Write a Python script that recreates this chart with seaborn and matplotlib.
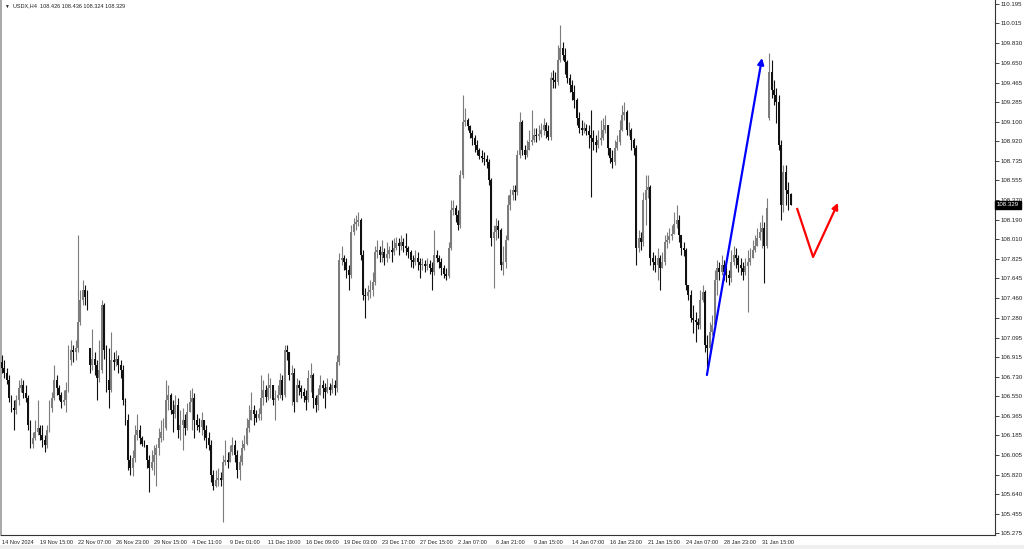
import numpy as np
import pandas as pd
import matplotlib
matplotlib.use('Agg')
import matplotlib.pyplot as plt
import seaborn as sns
from matplotlib.patches import Rectangle
from matplotlib.transforms import blended_transform_factory

sns.set_style('white')
plt.rcParams['font.family'] = ['Liberation Sans', 'DejaVu Sans']

# USDX H4 bars, 14 Nov 2024 .. 3 Feb 2025
opens = [
    106.87, 106.81, 106.77, 106.70, 106.53, 106.44, 106.42, 106.51, 106.63, 106.65,
    106.58, 106.53, 106.28, 106.11, 106.16, 106.22, 106.25, 106.19, 106.14, 106.10,
    106.24, 106.44, 106.53, 106.70, 106.63, 106.56, 106.50, 106.51, 106.61, 106.89,
    106.98, 106.96, 107.00, 107.24, 107.44, 107.54, 107.47, 107.00, 106.84, 106.90,
    106.84, 106.72, 106.79, 107.40, 106.98, 106.70, 106.61, 106.89, 106.87, 106.90,
    106.84, 106.79, 106.51, 106.33, 105.96, 105.88, 105.98, 106.19, 106.24, 106.16,
    106.11, 106.10, 105.96, 105.88, 105.94, 106.00, 106.07, 106.16, 106.22, 106.25,
    106.51, 106.56, 106.42, 106.38, 106.47, 106.24, 106.28, 106.33, 106.25, 106.40,
    106.50, 106.53, 106.33, 106.28, 106.26, 106.33, 106.24, 106.16, 106.10, 105.82,
    105.72, 105.77, 105.79, 105.77, 105.94, 105.96, 105.94, 106.03, 106.10, 106.00,
    105.86, 105.94, 106.07, 106.11, 106.25, 106.33, 106.42, 106.38, 106.35, 106.38,
    106.53, 106.61, 106.54, 106.63, 106.65, 106.51, 106.53, 106.56, 106.70, 106.56,
    106.98, 106.96, 106.75, 106.77, 106.50, 106.65, 106.63, 106.59, 106.55, 106.51,
    106.72, 106.75, 106.53, 106.47, 106.56, 106.65, 106.63, 106.59, 106.64, 106.61,
    106.65, 106.63, 106.87, 107.82, 107.83, 107.80, 107.72, 107.68, 108.08, 108.15,
    108.17, 108.19, 107.86, 107.49, 107.48, 107.52, 107.54, 107.61, 107.89, 107.91,
    107.86, 107.89, 107.83, 107.87, 107.91, 107.89, 107.93, 107.97, 107.95, 107.98,
    107.95, 107.93, 107.89, 107.82, 107.80, 107.83, 107.80, 107.77, 107.78, 107.76,
    107.78, 107.74, 107.70, 107.86, 107.83, 107.80, 107.74, 107.69, 107.67, 107.93,
    108.28, 108.30, 108.23, 108.14, 108.61, 109.10, 109.12, 109.06, 109.00, 108.95,
    108.88, 108.84, 108.78, 108.76, 108.75, 108.73, 108.56, 108.02, 108.08, 108.13,
    108.09, 107.77, 107.80, 108.00, 108.33, 108.42, 108.47, 108.45, 108.79, 109.10,
    108.84, 108.79, 108.84, 108.91, 108.93, 108.98, 108.97, 108.99, 109.02, 109.07,
    109.01, 108.96, 109.51, 109.49, 109.47, 109.67, 109.79, 109.72, 109.66, 109.51,
    109.44, 109.38, 109.30, 109.14, 109.04, 109.02, 109.04, 109.01, 108.98, 108.95,
    108.91, 108.88, 108.93, 108.95, 109.02, 109.07, 108.86, 108.76, 108.73, 108.86,
    108.91, 109.02, 109.16, 109.19, 109.02, 109.02, 108.93, 108.86, 107.93, 108.02,
    107.98, 108.37, 108.47, 108.49, 107.83, 107.80, 107.77, 107.83, 107.74, 107.80,
    107.98, 108.00, 108.04, 108.06, 108.15, 108.19, 108.05, 107.93, 107.91, 107.58,
    107.49, 107.28, 107.26, 107.24, 107.21, 107.44, 107.52, 107.03, 107.00, 107.15,
    107.21, 107.63, 107.74, 107.70, 107.77, 107.70, 107.68, 107.65, 107.80, 107.86,
    107.83, 107.77, 107.74, 107.70, 107.76, 107.80, 107.83, 107.91, 107.95, 108.02,
    108.08, 108.11, 107.95, 109.14, 109.56, 109.40, 109.35, 109.28, 108.88, 108.33,
    108.63, 108.47, 108.426,
]

highs = [
    106.93, 106.89, 106.81, 106.75, 106.56, 106.51, 106.56, 106.70, 106.72, 106.70,
    106.65, 106.56, 106.33, 106.22, 106.33, 106.51, 106.28, 106.28, 106.19, 106.28,
    106.51, 106.59, 106.84, 106.75, 106.65, 106.59, 106.61, 106.68, 107.03, 107.07,
    107.03, 107.07, 108.05, 107.54, 107.63, 107.58, 107.54, 107.00, 107.17, 106.96,
    106.89, 107.07, 107.44, 107.42, 107.03, 107.00, 107.15, 106.96, 106.98, 106.93,
    106.89, 106.84, 106.53, 106.38, 106.00, 106.05, 106.28, 106.38, 106.28, 106.18,
    106.14, 106.10, 106.00, 106.05, 106.10, 106.11, 106.25, 106.33, 106.35, 106.70,
    106.65, 106.58, 106.51, 106.56, 106.53, 106.42, 106.44, 106.38, 106.49, 106.61,
    106.63, 106.58, 106.38, 106.35, 106.40, 106.33, 106.28, 106.22, 106.14, 105.86,
    105.86, 105.88, 105.85, 106.00, 106.14, 106.03, 106.10, 106.17, 106.14, 106.05,
    106.00, 106.14, 106.19, 106.35, 106.47, 106.59, 106.47, 106.42, 106.44, 106.75,
    106.70, 106.65, 106.77, 106.72, 106.61, 106.61, 106.65, 106.77, 106.75, 107.03,
    107.03, 106.81, 106.84, 106.81, 106.72, 106.70, 106.65, 106.63, 106.61, 106.79,
    106.86, 106.77, 106.56, 106.63, 106.75, 106.70, 106.67, 106.72, 106.67, 106.72,
    106.70, 106.93, 107.88, 107.95, 107.86, 107.83, 107.77, 108.14, 108.21, 108.23,
    108.26, 108.21, 107.91, 107.56, 107.58, 107.63, 107.70, 107.95, 108.00, 107.95,
    108.00, 107.93, 107.98, 107.95, 108.00, 108.02, 108.03, 108.02, 108.05, 108.02,
    108.07, 107.95, 107.91, 107.86, 107.91, 107.89, 107.83, 107.83, 107.82, 107.83,
    107.82, 107.80, 108.09, 107.91, 107.86, 107.83, 107.77, 107.74, 107.98, 108.37,
    108.37, 108.33, 108.28, 108.65, 109.35, 109.23, 109.14, 109.07, 109.02, 108.98,
    108.93, 108.86, 108.84, 108.82, 108.79, 108.75, 108.58, 108.14, 108.21, 108.19,
    108.11, 107.95, 108.05, 108.42, 108.48, 108.51, 108.51, 108.84, 109.19, 109.12,
    108.88, 108.93, 109.02, 109.21, 109.04, 109.04, 109.07, 109.09, 109.14, 109.10,
    109.07, 109.56, 109.58, 109.56, 109.81, 110.00, 109.84, 109.79, 109.67, 109.54,
    109.49, 109.44, 109.32, 109.19, 109.12, 109.10, 109.08, 109.07, 109.21, 109.02,
    108.98, 109.02, 109.12, 109.14, 109.16, 109.04, 108.86, 108.84, 108.93, 108.98,
    109.12, 109.26, 109.28, 109.21, 109.10, 109.04, 108.95, 108.88, 108.09, 108.08,
    108.45, 108.61, 108.61, 108.51, 107.89, 107.86, 107.93, 107.86, 107.89, 108.05,
    108.08, 108.11, 108.14, 108.26, 108.33, 108.23, 108.02, 107.98, 107.93, 107.58,
    107.54, 107.40, 107.33, 107.28, 107.54, 107.58, 107.54, 107.12, 107.24, 107.30,
    107.72, 107.82, 107.80, 107.86, 107.82, 107.77, 107.72, 107.91, 107.95, 107.93,
    107.86, 107.83, 107.80, 107.83, 107.91, 107.93, 108.00, 108.05, 108.11, 108.17,
    108.23, 108.17, 108.39, 109.74, 109.67, 109.49, 109.41, 109.35, 108.93, 108.70,
    108.70, 108.54, 108.436,
]

lows = [
    106.77, 106.72, 106.66, 106.50, 106.40, 106.24, 106.38, 106.47, 106.59, 106.53,
    106.50, 106.24, 106.07, 106.07, 106.14, 106.19, 106.14, 106.08, 106.03, 106.07,
    106.22, 106.40, 106.51, 106.56, 106.51, 106.44, 106.47, 106.40, 106.59, 106.84,
    106.87, 106.89, 106.96, 107.21, 107.40, 107.40, 107.35, 106.77, 106.79, 106.75,
    106.51, 106.68, 106.77, 106.90, 106.59, 106.44, 106.59, 106.79, 106.83, 106.77,
    106.72, 106.47, 106.28, 105.86, 105.82, 105.81, 105.94, 106.14, 106.11, 106.09,
    106.08, 105.88, 105.66, 105.86, 105.82, 105.72, 106.00, 106.12, 106.14, 106.24,
    106.42, 106.38, 106.22, 106.35, 106.16, 106.14, 106.05, 106.19, 106.24, 106.40,
    106.24, 106.16, 106.24, 106.22, 106.19, 106.14, 106.07, 106.05, 105.75, 105.68,
    105.71, 105.72, 105.72, 105.38, 105.91, 105.88, 105.96, 106.00, 105.94, 105.79,
    105.77, 105.91, 106.05, 106.10, 106.22, 106.33, 106.28, 106.31, 106.33, 106.33,
    106.47, 106.50, 106.51, 106.53, 106.47, 106.33, 106.51, 106.53, 106.51, 106.54,
    106.89, 106.70, 106.47, 106.40, 106.56, 106.56, 106.53, 106.50, 106.42, 106.50,
    106.59, 106.44, 106.40, 106.42, 106.56, 106.53, 106.44, 106.58, 106.56, 106.58,
    106.56, 106.59, 106.84, 107.77, 107.72, 107.65, 107.54, 107.65, 108.05, 108.09,
    108.13, 107.82, 107.44, 107.28, 107.44, 107.46, 107.48, 107.58, 107.83, 107.80,
    107.80, 107.77, 107.80, 107.83, 107.80, 107.86, 107.91, 107.86, 107.91, 107.89,
    107.86, 107.83, 107.75, 107.74, 107.77, 107.72, 107.65, 107.72, 107.70, 107.72,
    107.69, 107.54, 107.68, 107.80, 107.74, 107.68, 107.65, 107.63, 107.65, 107.91,
    108.23, 108.17, 108.09, 108.11, 108.58, 109.06, 109.02, 108.95, 108.88, 108.82,
    108.79, 108.75, 108.73, 108.70, 108.67, 108.51, 107.95, 107.56, 108.00, 108.02,
    107.72, 107.68, 107.74, 108.00, 108.28, 108.37, 108.37, 108.42, 108.76, 108.79,
    108.75, 108.77, 108.86, 108.88, 108.91, 108.91, 108.93, 108.96, 108.98, 108.95,
    108.93, 108.93, 109.41, 109.41, 109.44, 109.66, 109.67, 109.54, 109.46, 109.38,
    109.30, 109.23, 109.07, 109.00, 108.98, 109.00, 108.98, 108.86, 108.40, 108.84,
    108.82, 108.86, 108.88, 108.93, 109.00, 108.79, 108.72, 108.67, 108.70, 108.84,
    108.88, 109.01, 109.12, 108.98, 108.97, 108.84, 108.79, 107.77, 107.89, 107.91,
    107.95, 108.14, 108.39, 107.77, 107.72, 107.70, 107.63, 107.54, 107.74, 107.77,
    107.93, 107.97, 108.00, 108.08, 108.11, 107.98, 107.86, 107.85, 107.54, 107.44,
    107.24, 107.14, 107.05, 107.17, 107.17, 107.43, 106.96, 106.80, 106.96, 107.12,
    107.17, 107.49, 107.63, 107.68, 107.63, 107.61, 107.58, 107.61, 107.77, 107.74,
    107.70, 107.68, 107.63, 107.68, 107.33, 107.77, 107.83, 107.89, 107.95, 108.00,
    107.93, 107.60, 107.93, 109.12, 109.32, 109.26, 109.09, 108.84, 108.19, 108.26,
    108.33, 108.28, 108.324,
]

closes = [
    106.81, 106.77, 106.70, 106.53, 106.44, 106.42, 106.51, 106.63, 106.65, 106.58,
    106.53, 106.28, 106.11, 106.16, 106.22, 106.25, 106.19, 106.14, 106.10, 106.24,
    106.44, 106.53, 106.70, 106.63, 106.56, 106.50, 106.51, 106.61, 106.89, 106.98,
    106.96, 107.00, 107.24, 107.44, 107.54, 107.47, 107.40, 106.84, 106.90, 106.84,
    106.72, 106.79, 107.40, 106.98, 106.70, 106.61, 106.89, 106.87, 106.90, 106.84,
    106.79, 106.51, 106.33, 105.96, 105.88, 105.98, 106.19, 106.24, 106.16, 106.11,
    106.10, 105.96, 105.88, 105.94, 106.00, 106.07, 106.16, 106.22, 106.25, 106.51,
    106.56, 106.42, 106.38, 106.47, 106.24, 106.28, 106.33, 106.25, 106.40, 106.50,
    106.53, 106.33, 106.28, 106.26, 106.33, 106.24, 106.16, 106.10, 105.82, 105.72,
    105.77, 105.79, 105.77, 105.94, 105.96, 105.94, 106.03, 106.10, 106.00, 105.86,
    105.94, 106.07, 106.11, 106.25, 106.33, 106.42, 106.38, 106.35, 106.38, 106.53,
    106.61, 106.54, 106.63, 106.65, 106.51, 106.53, 106.56, 106.70, 106.56, 106.98,
    106.96, 106.75, 106.77, 106.50, 106.65, 106.63, 106.59, 106.55, 106.51, 106.72,
    106.75, 106.53, 106.47, 106.56, 106.65, 106.63, 106.59, 106.64, 106.61, 106.65,
    106.63, 106.87, 107.82, 107.83, 107.80, 107.72, 107.68, 108.08, 108.15, 108.17,
    108.19, 107.86, 107.49, 107.48, 107.52, 107.54, 107.61, 107.89, 107.91, 107.86,
    107.89, 107.83, 107.87, 107.91, 107.89, 107.93, 107.97, 107.95, 107.98, 107.95,
    107.93, 107.89, 107.82, 107.80, 107.83, 107.80, 107.77, 107.78, 107.76, 107.78,
    107.74, 107.70, 107.86, 107.83, 107.80, 107.74, 107.69, 107.67, 107.93, 108.28,
    108.30, 108.23, 108.14, 108.61, 109.10, 109.12, 109.06, 109.00, 108.95, 108.88,
    108.84, 108.78, 108.76, 108.75, 108.73, 108.56, 108.02, 108.08, 108.13, 108.09,
    107.77, 107.80, 108.00, 108.33, 108.42, 108.47, 108.45, 108.79, 109.10, 108.84,
    108.79, 108.84, 108.91, 108.93, 108.98, 108.97, 108.99, 109.02, 109.07, 109.01,
    108.96, 109.51, 109.49, 109.47, 109.67, 109.79, 109.72, 109.66, 109.51, 109.44,
    109.38, 109.30, 109.14, 109.04, 109.02, 109.04, 109.01, 108.98, 108.95, 108.91,
    108.88, 108.93, 108.95, 109.02, 109.07, 108.86, 108.76, 108.73, 108.86, 108.91,
    109.02, 109.16, 109.19, 109.02, 109.02, 108.93, 108.86, 107.93, 108.02, 107.98,
    108.37, 108.47, 108.49, 107.83, 107.80, 107.77, 107.83, 107.74, 107.80, 107.98,
    108.00, 108.04, 108.06, 108.15, 108.19, 108.05, 107.93, 107.91, 107.58, 107.49,
    107.28, 107.26, 107.24, 107.21, 107.44, 107.52, 107.03, 107.00, 107.15, 107.21,
    107.63, 107.74, 107.70, 107.77, 107.70, 107.68, 107.65, 107.80, 107.86, 107.83,
    107.77, 107.74, 107.70, 107.76, 107.80, 107.83, 107.91, 107.95, 108.02, 108.08,
    108.11, 107.95, 108.30, 109.56, 109.40, 109.35, 109.28, 108.88, 108.33, 108.63,
    108.47, 108.43, 108.329,
]

date_labels = [
    '14 Nov 2024', '19 Nov 15:00', '22 Nov 07:00', '26 Nov 23:00', '29 Nov 15:00',
    '4 Dec 11:00', '9 Dec 01:00', '11 Dec 19:00', '16 Dec 09:00', '19 Dec 03:00',
    '23 Dec 17:00', '27 Dec 15:00', '2 Jan 07:00', '6 Jan 21:00', '9 Jan 15:00',
    '14 Jan 07:00', '16 Jan 23:00', '21 Jan 15:00', '24 Jan 07:00', '28 Jan 23:00',
    '31 Jan 15:00',
]
bars_per_label = 16

price_ticks = [
    110.195, 110.015, 109.830, 109.650, 109.465, 109.285, 109.100, 108.920,
    108.735, 108.555, 108.370, 108.190, 108.010, 107.825, 107.645, 107.460,
    107.280, 107.095, 106.915, 106.730, 106.550, 106.365, 106.185, 106.005,
    105.820, 105.640, 105.455, 105.275,
]

# hand-drawn arrows (bar index, price)
blue_arrow_x = [296.8, 320.0]
blue_arrow_y = [106.747, 109.693]
red_path_x = [334.7, 341.5, 352.0]
red_path_y = [108.299, 107.844, 108.346]

symbol = 'USDX,H4'

df = pd.DataFrame({'bar': np.arange(len(closes)), 'open': opens, 'high': highs,
                   'low': lows, 'close': closes})
df['high'] = df[['high', 'open', 'close']].max(axis=1)
df['low'] = df[['low', 'open', 'close']].min(axis=1)
df['up'] = df['close'] >= df['open']
df['body_lo'] = df[['open', 'close']].min(axis=1)
df['body_h'] = (df['close'] - df['open']).abs().clip(lower=0.008)

up_col = '#7c7c7c'
dn_col = '#111111'
cols = np.where(df['up'], up_col, dn_col)

fig = plt.figure(figsize=(10.24, 5.49), dpi=100)
ax = fig.add_axes([1 / 1024, 14 / 549, 994 / 1024, 535 / 549])

ax.vlines(df['bar'], df['low'], df['high'], colors=cols, linewidth=0.8, zorder=2)
ax.bar(df['bar'], df['body_h'], bottom=df['body_lo'], width=0.8, color=cols,
       linewidth=0, zorder=3)

# arrows
ax.annotate('', xy=(blue_arrow_x[1], blue_arrow_y[1]), xytext=(blue_arrow_x[0], blue_arrow_y[0]),
            arrowprops=dict(arrowstyle='-|>', color='#0000ff', lw=1.6, mutation_scale=9,
                            shrinkA=0, shrinkB=0), zorder=6)
ax.plot(red_path_x[:2], red_path_y[:2], color='#ff0000', lw=1.6, solid_capstyle='butt', zorder=6)
ax.annotate('', xy=(red_path_x[2], red_path_y[2]), xytext=(red_path_x[1], red_path_y[1]),
            arrowprops=dict(arrowstyle='-|>', color='#ff0000', lw=1.6, mutation_scale=9,
                            shrinkA=0, shrinkB=0), zorder=6)

ax.set_xlim(-0.42, 418.1)
ax.set_ylim(105.260, 110.232)

ax.yaxis.tick_right()
ax.set_yticks(price_ticks)
ax.set_yticklabels([f'{v:.3f}' for v in price_ticks])
ax.tick_params(axis='y', direction='out', length=3, width=0.6, labelsize=4.4, pad=1.2,
               colors='#222222')

ax.set_xticks(np.arange(len(date_labels)) * bars_per_label)
ax.set_xticklabels(date_labels, ha='left')
ax.tick_params(axis='x', direction='out', length=3, width=0.6, labelsize=4, pad=0.8,
               colors='#222222')

ax.spines['top'].set_visible(False)
ax.spines['left'].set_color('#9a9a9a')
ax.spines['left'].set_linewidth(1.2)
for s in ['right', 'bottom']:
    ax.spines[s].set_color('#333333')
    ax.spines[s].set_linewidth(0.8)

# current price tag
tr = blended_transform_factory(ax.transAxes, ax.transData)
ax.text(1.002, closes[-1], f'{closes[-1]:.3f}', transform=tr, color='white', fontsize=4.4,
        va='center', ha='left', clip_on=False, zorder=10,
        bbox=dict(boxstyle='square,pad=0.25', fc='black', ec='black'))

# header
fig.text(4 / 1024, 1 - 6 / 549, '\u25bc', fontsize=3.5, va='center', color='#222222')
fig.text(13 / 1024, 1 - 6 / 549,
         f'{symbol}  {opens[-1]:.3f} {highs[-1]:.3f} {lows[-1]:.3f} {closes[-1]:.3f}',
         fontsize=4, va='center', color='#222222')

fig.add_artist(Rectangle((0, 0), 1, 4 / 549, transform=fig.transFigure,
                         facecolor='#efefef', edgecolor='none'))

fig.savefig('out.png', dpi=100)
